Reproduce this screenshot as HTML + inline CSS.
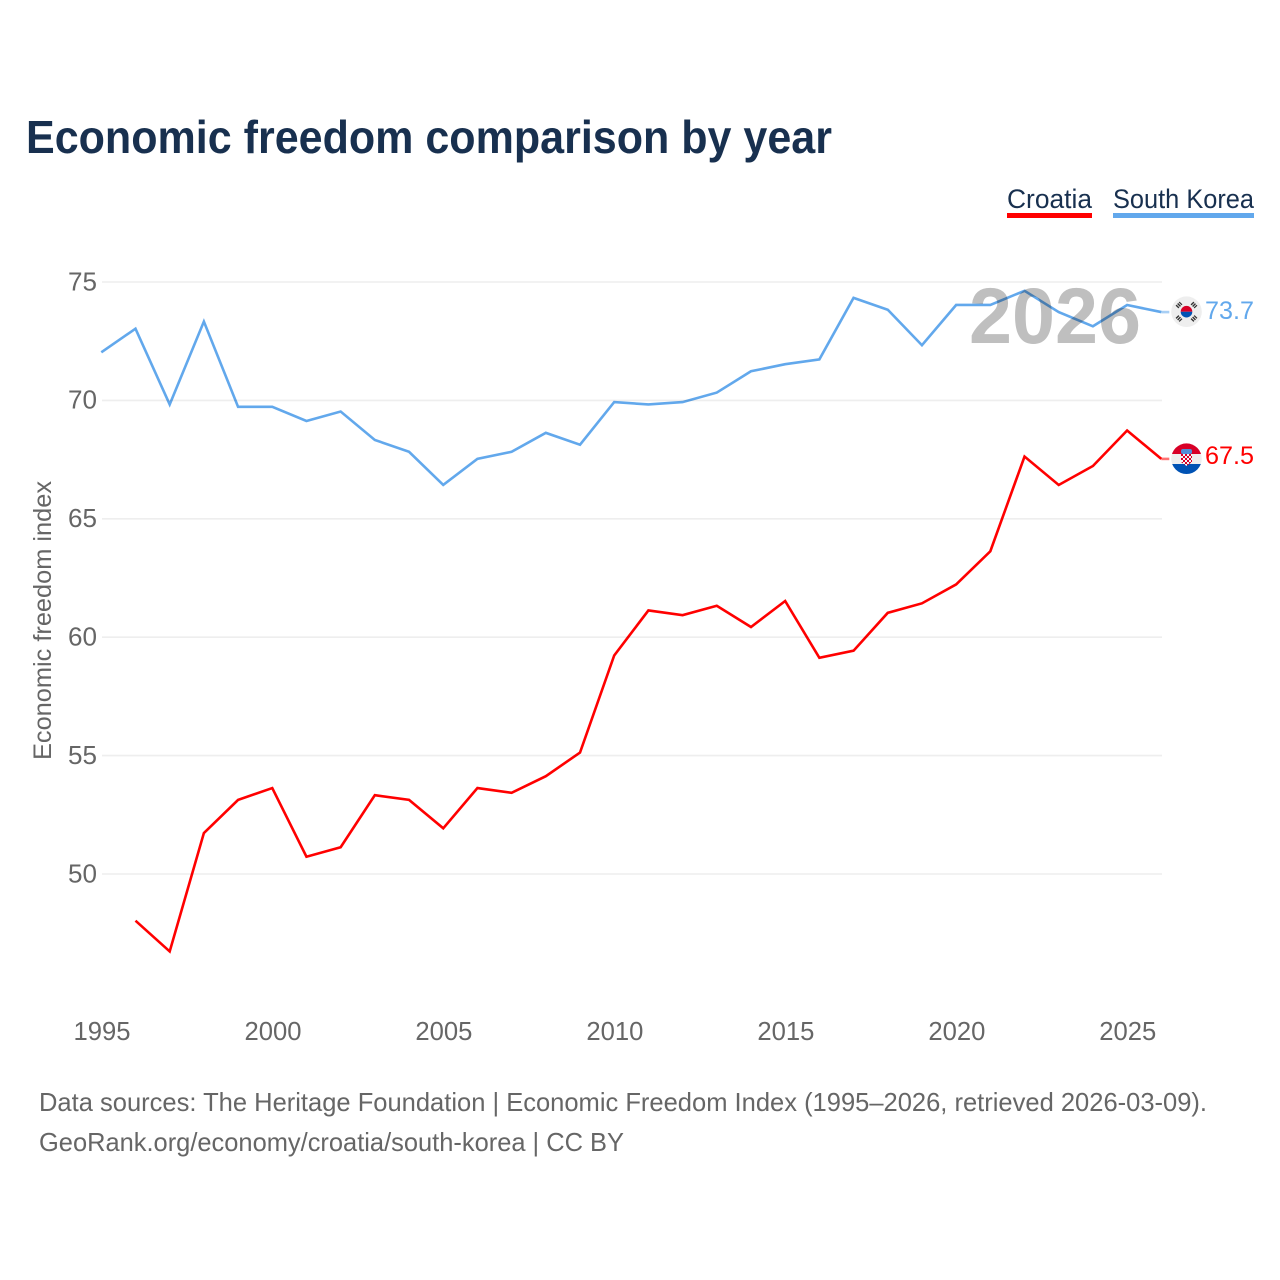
<!DOCTYPE html>
<html lang="en">
<head>
<meta charset="utf-8">
<title>Economic freedom comparison by year</title>
<style>
html,body{margin:0;padding:0;background:#fff;width:1280px;height:1280px;overflow:hidden}
svg{display:block}
text{font-family:"Liberation Sans",sans-serif}
</style>
</head>
<body>
<svg id="chart" xmlns="http://www.w3.org/2000/svg" width="1280" height="1280" viewBox="0 0 1280 1280">
  <defs>
    <pattern id="checker" x="1181" y="454" width="4" height="4" patternUnits="userSpaceOnUse">
      <rect width="4" height="4" fill="#f4f4f4"/>
      <rect width="2" height="2" fill="#d80027"/>
      <rect x="2" y="2" width="2" height="2" fill="#d80027"/>
    </pattern>
    <clipPath id="hr"><circle cx="1186.5" cy="458.7" r="15.3"/></clipPath>
  </defs>
  <rect width="1280" height="1280" fill="#fff"/>
  <text x="26" y="153" font-size="46" font-weight="700" fill="#18304f" textLength="806" lengthAdjust="spacingAndGlyphs">Economic freedom comparison by year</text>
  <g>
    <text x="1007" y="208" font-size="27" fill="#18304f" textLength="85" lengthAdjust="spacingAndGlyphs">Croatia</text>
    <rect x="1007" y="213" width="85" height="5" fill="#ff0000"/>
  </g>
  <g>
    <text x="1113" y="208" font-size="27" fill="#18304f" textLength="141" lengthAdjust="spacingAndGlyphs">South Korea</text>
    <rect x="1113" y="213" width="141" height="5" fill="#62a8ec"/>
  </g>
  <text transform="translate(51 760) rotate(-90)" font-size="25" fill="#666" textLength="279" lengthAdjust="spacingAndGlyphs">Economic freedom index</text>
  <g id="grid"></g>
  <g id="yticks"></g>
  <g id="xticks"></g>
  <text x="969" y="343" font-size="79" font-weight="700" fill="#bfbfbf" textLength="172" lengthAdjust="spacingAndGlyphs">2026</text>
  <g id="series" style="mix-blend-mode:multiply"></g>
  <g>
    <circle cx="1186.5" cy="311.7" r="15.3" fill="#eeeeee"/>
    <path d="M1180.7 311.7a5.8 5.8 0 0 1 11.6 0z" fill="#d80027"/>
    <path d="M1180.7 311.7a5.8 5.8 0 0 0 11.6 0z" fill="#0052b4"/>
    <g stroke="#333" stroke-width="4" stroke-dasharray="1.4 0.8">
      <line x1="1177" y1="307" x2="1181" y2="303"/>
      <line x1="1192" y1="303" x2="1196" y2="307"/>
      <line x1="1177" y1="316.5" x2="1181" y2="320.5"/>
      <line x1="1192" y1="320.5" x2="1196" y2="316.5"/>
    </g>
  </g>
  <g>
    <g clip-path="url(#hr)">
      <rect x="1171" y="443" width="31" height="11" fill="#d80027"/>
      <rect x="1171" y="454" width="31" height="10" fill="#eeeeee"/>
      <rect x="1171" y="464" width="31" height="11" fill="#0052b4"/>
    </g>
    <rect x="1181" y="449" width="11" height="5" rx="2" fill="#4f8fd8"/>
    <path d="M1181 454h11v8l-5.500 4l-5.500-4z" fill="url(#checker)"/>
  </g>
  <text id="label-sk" x="1205" y="319" font-size="25" fill="#62a8ec" textLength="49" lengthAdjust="spacingAndGlyphs">73.7</text>
  <text id="label-hr" x="1205" y="464" font-size="25" fill="#ff0000" textLength="49" lengthAdjust="spacingAndGlyphs">67.5</text>
  <text x="39" y="1111" font-size="26" fill="#666" textLength="1168" lengthAdjust="spacingAndGlyphs">Data sources: The Heritage Foundation | Economic Freedom Index (1995–2026, retrieved 2026-03-09).</text>
  <text x="39" y="1151" font-size="26" fill="#666" textLength="585" lengthAdjust="spacingAndGlyphs">GeoRank.org/economy/croatia/south-korea | CC BY</text>
</svg>
<script>
const years = [1995,1996,1997,1998,1999,2000,2001,2002,2003,2004,2005,2006,2007,2008,2009,2010,2011,2012,2013,2014,2015,2016,2017,2018,2019,2020,2021,2022,2023,2024,2025,2026];
const southKorea = [72.0,73.0,69.8,73.3,69.7,69.7,69.1,69.5,68.3,67.8,66.4,67.5,67.8,68.6,68.1,69.9,69.8,69.9,70.3,71.2,71.5,71.7,74.3,73.8,72.3,74.0,74.0,74.6,73.7,73.1,74.0,73.7];
const croatia = [null,48.0,46.7,51.7,53.1,53.6,50.7,51.1,53.3,53.1,51.9,53.6,53.4,54.1,55.1,59.2,61.1,60.9,61.3,60.4,61.5,59.1,59.4,61.0,61.4,62.2,63.6,67.6,66.4,67.2,68.7,67.5];
const yTicks = [50,55,60,65,70,75];
const xTicks = [1995,2000,2005,2010,2015,2020,2025];

const NS = 'http://www.w3.org/2000/svg';
function x(year){ return 101.3 + (year - 1995) * (1161.3 - 101.3) / 31; }
function y(value){ return 281.3 + (75 - value) * (873.3 - 281.3) / 25; }
function make(tag, attrs, parent){
  const el = document.createElementNS(NS, tag);
  for (const k in attrs) el.setAttribute(k, attrs[k]);
  parent.appendChild(el);
  return el;
}
const grid = document.getElementById('grid');
const yt = document.getElementById('yticks');
const xt = document.getElementById('xticks');
const series = document.getElementById('series');

yTicks.forEach(function(v){
  const l = make('line', {x1:102, x2:1162, y1:y(v)+0.7, y2:y(v)+0.7, stroke:'#eeeeee', 'stroke-width':1.6}, grid);
  
  
  const t = make('text', {x:97, y:y(v)+9, 'text-anchor':'end', 'font-size':25.5, fill:'#666', textLength:29, lengthAdjust:'spacingAndGlyphs'}, yt);
  
  
  t.textContent = v;
});
xTicks.forEach(function(v){
  const t = make('text', {x:x(v)+0.7, y:1040, 'text-anchor':'middle', 'font-size':25.5, fill:'#666', textLength:57, lengthAdjust:'spacingAndGlyphs'}, xt);
  
  
  t.textContent = v;
});
function draw(values, color, name){
  let d = '';
  values.forEach(function(v, i){
    if (v === null) return;
    d += (d ? 'L' : 'M') + x(years[i]).toFixed(2) + ' ' + y(v).toFixed(2);
  });
  const p = make('path', {d:d, fill:'none', stroke:color, 'stroke-width':2.6, 'stroke-linejoin':'miter'}, series);
  
  
  const lastYear = years[years.length-1];
  const lastValue = values[values.length-1];
  const c = make('line', {x1:x(lastYear), x2:x(lastYear)+8, y1:y(lastValue), y2:y(lastValue), stroke:color, 'stroke-width':2.6, opacity:0.55}, series);
  
  
}
draw(southKorea, '#62a8ec', 'line-south-korea');
draw(croatia, '#ff0000', 'line-croatia');
document.getElementById('label-sk').textContent = southKorea[southKorea.length-1].toFixed(1);
document.getElementById('label-hr').textContent = croatia[croatia.length-1].toFixed(1);
</script>
</body>
</html>
